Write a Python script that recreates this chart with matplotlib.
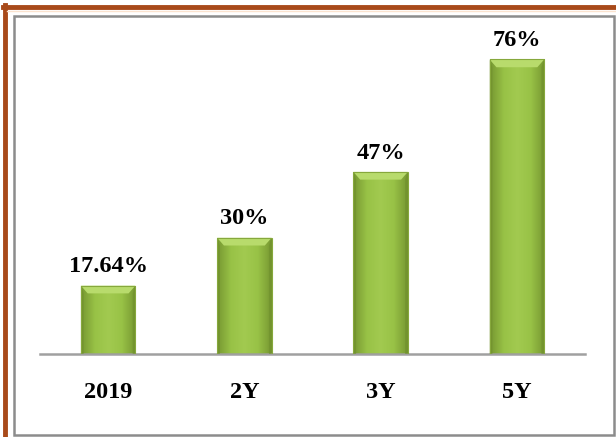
import numpy as np
import matplotlib
matplotlib.use('Agg')
import matplotlib.pyplot as plt
from matplotlib.patches import Rectangle, Polygon
from matplotlib.colors import LinearSegmentedColormap

# Chart data
categories = ['2019', '2Y', '3Y', '5Y']
values = [17.64, 30, 47, 76]
value_labels = ['17.64%', '30%', '47%', '76%']

plt.rcParams['font.family'] = ['Liberation Serif', 'DejaVu Serif']

fig = plt.figure(figsize=(6.16, 4.37), dpi=100)
W, H = 616, 437

# outer frame: orange on top/left, grey box inside
fig.add_artist(plt.Line2D([5 / W, 5 / W], [0, 1 - 5 / H], color='#a84a1a', lw=3.5))
fig.add_artist(plt.Line2D([3 / W, 1], [1 - 7 / H, 1 - 7 / H], color='#a84a1a', lw=3.5))
fig.add_artist(plt.Line2D([7 / W, 1], [1 - 10.5 / H, 1 - 10.5 / H], color='#fbe3cf', lw=1))
fig.add_artist(Rectangle((14 / W, 2 / H), 600 / W, (H - 18) / H, transform=fig.transFigure,
                         fill=False, edgecolor='#8c8c8c', lw=1.8))

ax = fig.add_axes([40 / W, 83 / H, 545 / W, 310 / H])
ax.set_xlim(-0.5, 3.5)
ax.set_ylim(0, 80)
for s in ['top', 'right', 'left']:
    ax.spines[s].set_visible(False)
ax.spines['bottom'].set_color('#a0a0a0')
ax.spines['bottom'].set_linewidth(1.8)
ax.set_yticks([])
ax.set_xticks(range(len(categories)))
ax.set_xticklabels(categories, fontsize=17.5, fontweight='bold')
ax.tick_params(axis='x', length=0, pad=20)

# bevelled green bars
cmap = LinearSegmentedColormap.from_list('g', ['#779832', '#98c246', '#a2ca50', '#98c246', '#779832'])
grad = np.linspace(0, 1, 64).reshape(1, -1)
bw = 0.4
bev_x = 0.05
bev_y = 2.0
for i, v in enumerate(values):
    x0, x1 = i - bw / 2, i + bw / 2
    im = ax.imshow(grad, cmap=cmap, extent=[x0, x1, 0, v], aspect='auto', zorder=2)
    rect = Rectangle((x0, 0), bw, v, transform=ax.transData, facecolor='none')
    ax.add_patch(rect)
    im.set_clip_path(rect)
    # top bevel
    ax.add_patch(Polygon([[x0, v], [x1, v], [x1 - bev_x, v - bev_y], [x0 + bev_x, v - bev_y]],
                         closed=True, facecolor='#b8db6c', edgecolor='none', zorder=3))
    ax.add_patch(Polygon([[x0, v], [x0 + bev_x * 0.4, v - bev_y], [x0 + bev_x * 0.4, 0], [x0, 0]],
                         closed=True, facecolor='#6f8f2c', edgecolor='none', zorder=3, alpha=0.6))
    ax.add_patch(Polygon([[x1, v], [x1 - bev_x * 0.4, v - bev_y], [x1 - bev_x * 0.4, 0], [x1, 0]],
                         closed=True, facecolor='#6f8f2c', edgecolor='none', zorder=3, alpha=0.6))
    ax.add_patch(Rectangle((x0, 0), bw, v, facecolor='none', edgecolor='#86a83c', lw=0.8, zorder=4))
    ax.annotate(value_labels[i], (i, v), xytext=(0, 6), textcoords='offset points',
                ha='center', va='bottom', fontsize=17.5, fontweight='bold')

fig.savefig('out.png', dpi=100)
